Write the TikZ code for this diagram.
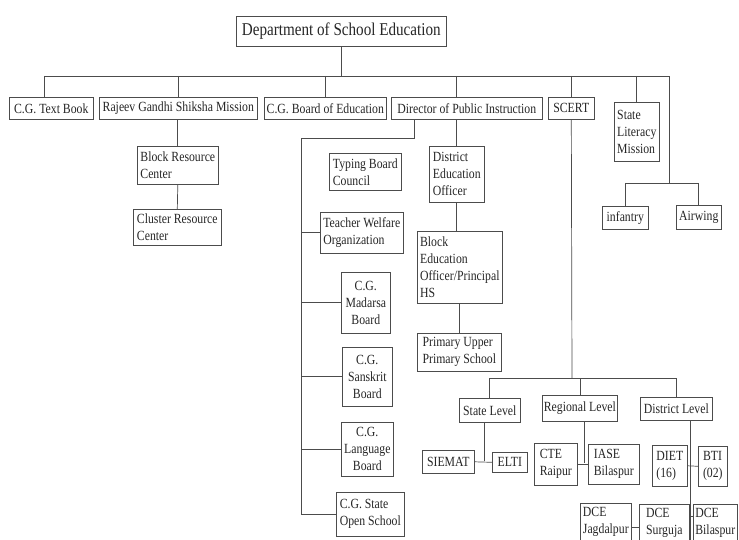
\documentclass[tikz,border=0pt]{standalone}
\usepackage{fontspec}
\setmainfont{Liberation Serif}[FakeStretch=0.84]
\usepackage{tikz}
\usetikzlibrary{positioning}
\usepackage{xcolor}
\tikzset{
	orgbox/.style={draw=black!70, line width=0.6pt, anchor=north west, inner xsep=1.5pt, inner ysep=1pt, align=left, text=black!85, font=\fontsize{14pt}{17pt}\selectfont},
	link/.style={draw=black!70, line width=0.7pt}
}
\begin{document}
\begin{tikzpicture}[x=1pt, y=-1pt]
	\useasboundingbox (0,0) rectangle (739,540);
	\clip (0,0) rectangle (739,540);
	\fill[white] (0,0) rectangle (739,540);
	\node[orgbox, minimum width=210, minimum height=30, font=\fontsize{18pt}{20pt}\selectfont] (dse) at (236,16) {Department of School Education};
	\node[orgbox, minimum width=84, minimum height=22] (textbook) at (9,97) {C.G. Text Book};
	\node[orgbox, minimum width=158, minimum height=22] (rgsm) at (99,97) {Rajeev Gandhi Shiksha Mission};
	\node[orgbox, minimum width=122, minimum height=22] (cgboe) at (264,97) {C.G. Board of Education};
	\node[orgbox, minimum width=151, minimum height=22] (dpi) at (391,97) {Director of Public Instruction};
	\node[orgbox, minimum width=46, minimum height=22] (scert) at (548,97) {SCERT};
	\node[orgbox, minimum width=45, minimum height=59] (slm) at (614,102) {State\\Literacy\\Mission};
	\node[orgbox, minimum width=46, minimum height=23] (infantry) at (602,206) {infantry};
	\node[orgbox, minimum width=45, minimum height=24] (airwing) at (676,205) {Airwing};
	\node[orgbox, minimum width=81, minimum height=38] (brc) at (137,146) {Block Resource\\Center};
	\node[orgbox, minimum width=88, minimum height=36] (crc) at (133,209) {Cluster Resource\\Center};
	\node[orgbox, minimum width=72, minimum height=37] (typing) at (329,153) {Typing Board\\Council};
	\node[orgbox, minimum width=83, minimum height=41] (welfare) at (320,212) {Teacher Welfare\\Organization};
	\node[orgbox, minimum width=49, minimum height=61, align=center] (madarsa) at (341,272) {C.G.\\Madarsa\\Board};
	\node[orgbox, minimum width=50, minimum height=59, align=center] (sanskrit) at (342,347) {C.G.\\Sanskrit\\Board};
	\node[orgbox, minimum width=52, minimum height=54, align=center] (language) at (341,422) {C.G.\\Language\\Board};
	\node[orgbox, minimum width=68, minimum height=44] (openschool) at (336,492) {C.G. State\\Open School};
	\node[orgbox, minimum width=55, minimum height=56] (deo) at (429,146) {District\\Education\\Officer};
	\node[orgbox, minimum width=85, minimum height=72] (beo) at (417,231) {Block\\Education\\Officer/Principal\\HS};
	\node[orgbox, minimum width=84, minimum height=38] (primary) at (417,333) {Primary Upper\\Primary School};
	\node[orgbox, minimum width=61, minimum height=24] (state) at (459,398) {State Level};
	\node[orgbox, minimum width=74, minimum height=26] (regional) at (542,395) {Regional Level};
	\node[orgbox, minimum width=72, minimum height=23] (district) at (640,397) {District Level};
	\node[orgbox, minimum width=52, minimum height=23] (siemat) at (422,450) {SIEMAT};
	\node[orgbox, minimum width=35, minimum height=20] (elti) at (492,452) {ELTI};
	\node[orgbox, minimum width=43, minimum height=42] (cte) at (534,443) {CTE\\Raipur};
	\node[orgbox, minimum width=51, minimum height=40] (iase) at (588,444) {IASE\\Bilaspur};
	\node[orgbox, minimum width=35, minimum height=41] (diet) at (652,445) {DIET\\(16)};
	\node[orgbox, minimum width=29, minimum height=40] (bti) at (698,446) {BTI\\(02)};
	\node[orgbox, minimum width=51, minimum height=38, inner ysep=0pt] (dcejag) at (580,503) {DCE\\Jagdalpur};
	\node[orgbox, minimum width=50, minimum height=38, inner ysep=0pt] (dcesur) at (639,504) {DCE\\Surguja};
	\node[orgbox, minimum width=44, minimum height=38, inner ysep=0pt] (dcebil) at (693,504) {DCE\\Bilaspur};
	\coordinate (busL) at (44,76);
	\coordinate (busR) at (669,76);
	\coordinate (armyT) at (669,183);
	\coordinate (dpiL) at (414,138);
	\coordinate (spineT) at (301,138);
	\coordinate (lvl) at (572,378);
	\coordinate (stJ) at (484,461);
	\coordinate (rgJ) at (584,463);
	\coordinate (dsB) at (690,545);
	\coordinate (dcJ) at (690,516);
	\coordinate (dcK) at (610,527);
	\draw[link] (dse.south) -- (dse.south |- busL);
	\draw[link] (busL) -- (busR) -- (armyT);
	\draw[link] (busL) -- (textbook.north -| busL);
	\draw[link] (rgsm.north |- busL) -- (rgsm.north);
	\draw[link] (cgboe.north |- busL) -- (cgboe.north);
	\draw[link] (deo.north |- busL) -- (deo.north |- dpi.north);
	\draw[link] (scert.north |- busL) -- (scert.north);
	\draw[link] (slm.north |- busL) -- (slm.north);
	\draw[link] (infantry.north |- armyT) -- (airwing.north |- armyT);
	\draw[link] (infantry.north |- armyT) -- (infantry.north);
	\draw[link] (airwing.north |- armyT) -- (airwing.north);
	\draw[link] (brc.north |- rgsm.south) -- (brc.north);
	\draw[link] (brc.south) -- (crc.north);
	\draw[link] (dpi.south -| dpiL) -- (dpiL) -- (spineT) -- (spineT |- openschool.west) -- (openschool.west);
	\draw[link] (spineT |- welfare.west) -- (welfare.west);
	\draw[link] (spineT |- madarsa.west) -- (madarsa.west);
	\draw[link] (spineT |- sanskrit.west) -- (sanskrit.west);
	\draw[link] (spineT |- language.west) -- (language.west);
	\draw[link] (dpi.south -| deo.north) -- (deo.north);
	\draw[link] (deo.south) -- (deo.south |- beo.north);
	\draw[link] (beo.south) -- (beo.south |- primary.north);
	\draw[link] (scert.south) -- (lvl);
	\draw[link] (state.north |- lvl) -- (district.north |- lvl);
	\draw[link] (state.north |- lvl) -- (state.north);
	\draw[link] (regional.north |- lvl) -- (regional.north);
	\draw[link] (district.north |- lvl) -- (district.north);
	\draw[link] (state.south -| stJ) -- (stJ);
	\draw[link] (siemat.east) -- (elti.west);
	\draw[link] (regional.south -| rgJ) -- (rgJ);
	\draw[link] (cte.east) -- (iase.west);
	\draw[link] (district.south -| dsB) -- (dsB);
	\draw[link] (diet.east) -- (bti.west);
	\draw[link] (dcejag.east |- dcK) -- (dcesur.west |- dcK);
	\draw[link] (dcesur.east |- dcJ) -- (dcebil.west |- dcJ);
\end{tikzpicture}
\end{document}
